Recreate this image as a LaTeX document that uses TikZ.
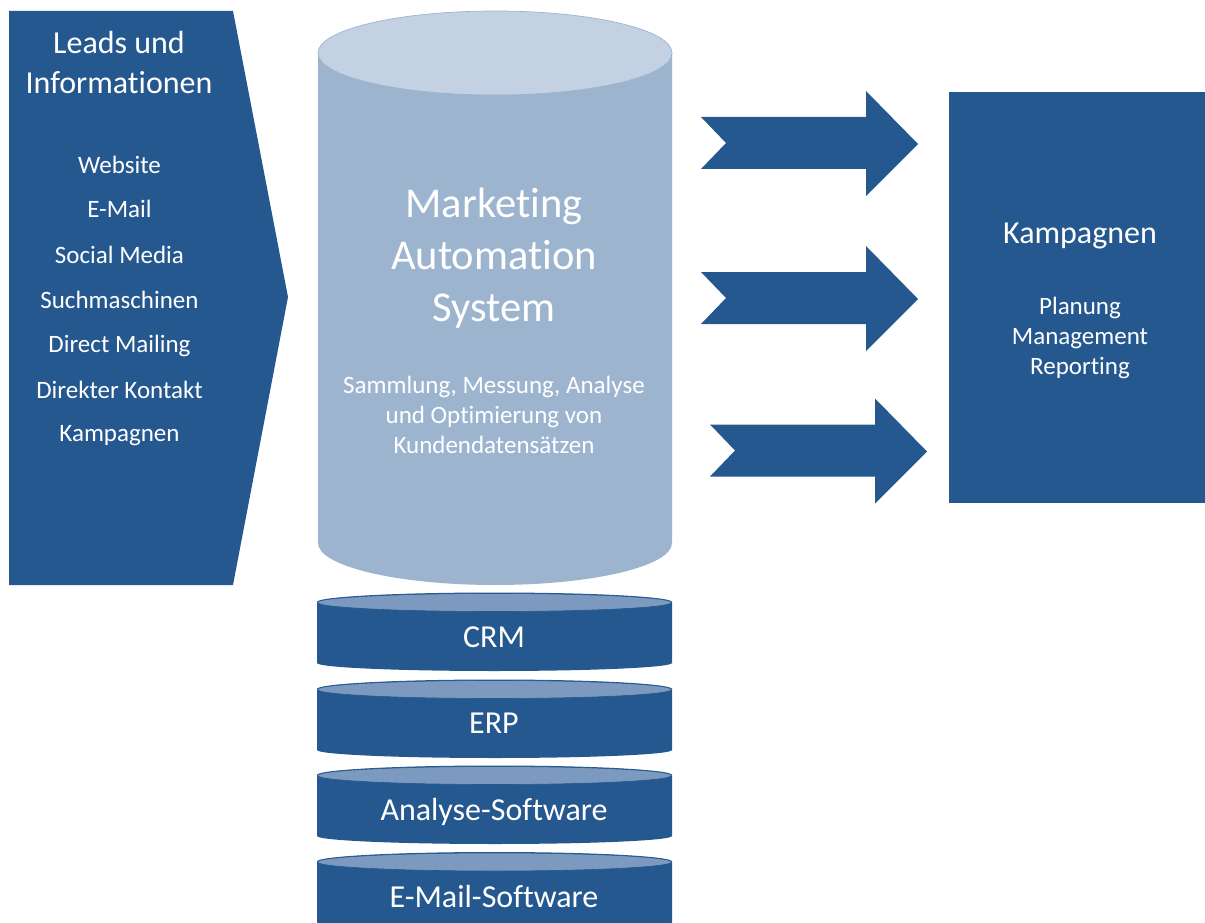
\documentclass[tikz,border=0pt]{standalone}
\usepackage{fontspec}
\setmainfont[Ligatures=NoCommon]{Carlito}
\definecolor{navy}{HTML}{265890}
\definecolor{body}{HTML}{9DB4CF}
\definecolor{lid}{HTML}{C3D1E3}
\definecolor{disc}{HTML}{7C9ABF}
\tikzset{
  x=1pt,y=-1pt,
  lbl/.style={text=white,inner sep=0pt,align=center,anchor=center},
  head/.style={lbl,font=\fontsize{32}{40}\selectfont},
  item/.style={lbl,font=\fontsize{25}{30}\selectfont},
  big/.style={lbl,font=\fontsize{42.5}{52}\selectfont},
  mid/.style={lbl,font=\fontsize{25}{30}\selectfont},
  dsc/.style={lbl,font=\fontsize{32}{38}\selectfont},
}
\newcommand{\flowarrow}[2]{%
  \fill[navy,shift={(#1,#2)}] (701,117)--(866,117)--(866,91)--(918,144)--(866,196)--(866,169)--(701,169)--(726,143)--cycle;}
\newcommand{\discshape}[1]{%
  \begin{scope}[shift={(0,#1)}]
    \fill[navy] (317,602) arc[x radius=177.5,y radius=9.5,start angle=180,end angle=360]
      -- (672,663) arc[x radius=177.5,y radius=8,start angle=0,end angle=180] -- cycle;
    \fill[disc,draw=navy,line width=0.6pt] (494.5,602.5) ellipse[x radius=177,y radius=9];
  \end{scope}}
\begin{document}
\begin{tikzpicture}
\useasboundingbox (0,0) rectangle (1205,923);
\fill[navy] (9,11)--(233,11)--(288,297)--(233,585)--(9,585)--cycle;
\fill[body] (318,53)--(318,543) arc[x radius=177,y radius=42,start angle=180,end angle=0]--(672,53)--cycle;
\fill[lid] (495,53) ellipse[x radius=177,y radius=42];
\draw[body,line width=0.7pt] (495,53) ellipse[x radius=177,y radius=42];
\flowarrow{0}{0}
\flowarrow{0}{155}
\flowarrow{9}{307.5}
\fill[navy] (949,92) rectangle (1205,503);
\discshape{0}
\discshape{87}
\discshape{173}
\discshape{259.5}
\node[head] (leads) at (119,62.5) {Leads und\\Informationen};
\node[item] (i1) at (119.5,164.5) {Website};
\node[item] (i2) at (119.5,209) {E-Mail};
\node[item] (i3) at (119.5,254.5) {Social Media};
\node[item] (i4) at (119.5,299.5) {Suchmaschinen};
\node[item] (i5) at (119.5,346) {Direct Mailing};
\node[item] (i6) at (119.5,389.5) {Direkter Kontakt};
\node[item] (i7) at (119.5,436) {Kampagnen};
\node[big] (mas) at (494,258) {Marketing\\Automation\\System};
\node[mid] (sub) at (494,415) {Sammlung, Messung, Analyse\\und Optimierung von\\Kundendatensätzen};
\node[head] (kamp) at (1080,236) {Kampagnen};
\node[item] (plan) at (1080,338) {Planung\\Management\\Reporting};
\node[dsc] (crm) at (494,637) {CRM};
\node[dsc] (erp) at (494,723) {ERP};
\node[dsc] (ana) at (494,812) {Analyse-Software};
\node[dsc] (mail) at (494,896) {E-Mail-Software};
\end{tikzpicture}
\end{document}
